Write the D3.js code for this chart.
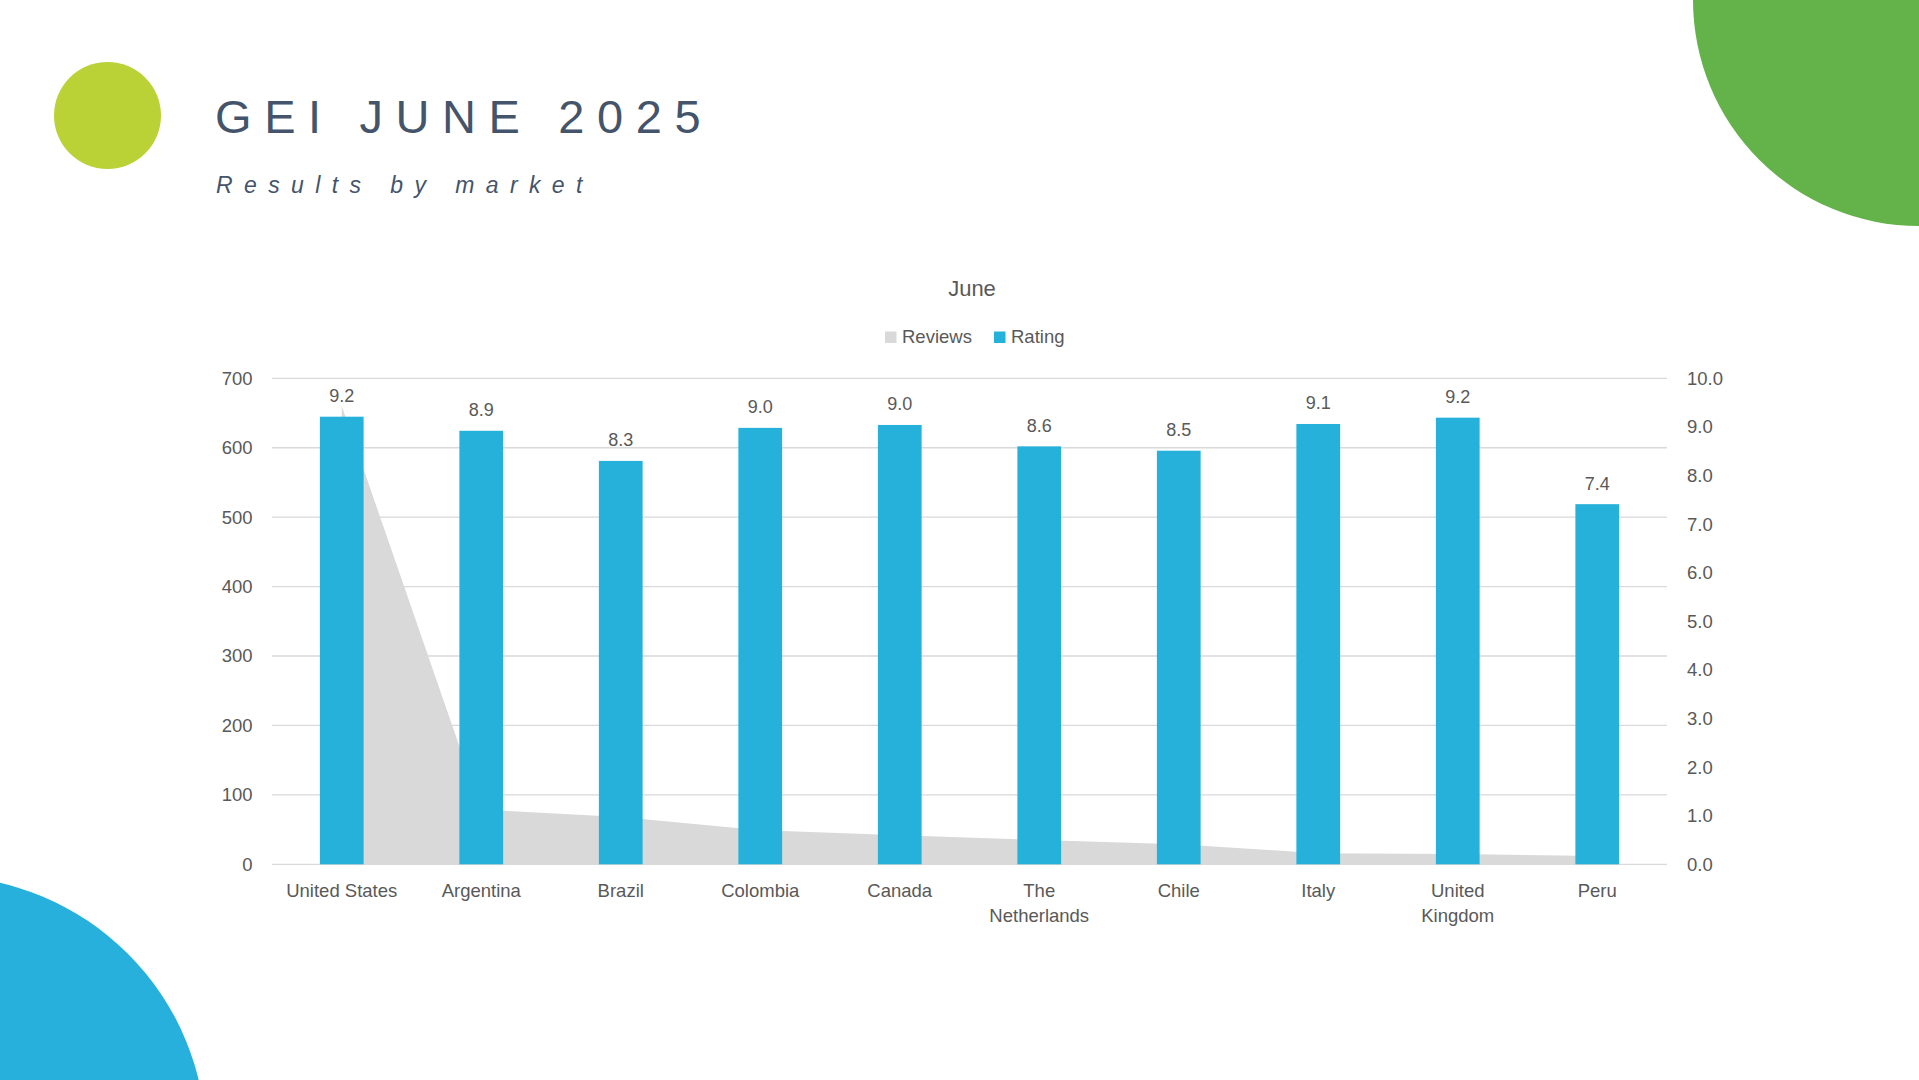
<!DOCTYPE html>
<html>
<head>
<meta charset="utf-8">
<script src="https://cdn.jsdelivr.net/npm/d3@7"></script>
<style>
  html, body { margin: 0; padding: 0; background: #fff; }
  svg { display: block; }
</style>
</head>
<body>
<svg id="slide"></svg>
<script>
const W = 1919, H = 1080;

// DATA
const markets = ["United States", "Argentina", "Brazil", "Colombia", "Canada",
                 "The Netherlands", "Chile", "Italy", "United Kingdom", "Peru"];
const tickLabels = ["United States", "Argentina", "Brazil", "Colombia", "Canada",
                    "The\nNetherlands", "Chile", "Italy", "United\nKingdom", "Peru"];
const reviews = [660, 79, 68, 49, 42, 35, 29, 16, 15, 12];
const rating = [9.21, 8.92, 8.30, 8.98, 9.04, 8.60, 8.51, 9.06, 9.19, 7.41];
const leftTicks = [0, 100, 200, 300, 400, 500, 600, 700];
const rightTicks = [0, 1, 2, 3, 4, 5, 6, 7, 8, 9, 10];
const seriesNames = ["Reviews", "Rating"];

const data = markets.map((m, i) => ({ market: m, label: tickLabels[i], reviews: reviews[i], rating: rating[i] }));

const font = "'Liberation Sans', Arial, sans-serif";
const grey = "#595959";
const blue = "#26B1DA";
const areaGrey = "#D9D9D9";

const svg = d3.select("#slide")
    .attr("width", W)
    .attr("height", H)
    .attr("viewBox", `0 0 ${W} ${H}`);

// DECORATION
svg.append("circle")
    .attr("cx", 107.5).attr("cy", 115.5).attr("r", 53.5)
    .attr("fill", "#BAD235");
svg.append("ellipse")
    .attr("cx", 1919).attr("cy", 0).attr("rx", 226).attr("ry", 226)
    .attr("fill", "#63B34A");
svg.append("circle")
    .attr("cx", -60).attr("cy", 1142).attr("r", 266)
    .attr("fill", "#27B0DB");

svg.append("text")
    .attr("x", 215).attr("y", 133)
    .attr("font-family", font)
    .attr("font-size", 47)
    .attr("letter-spacing", "12.6px")
    .attr("fill", "#44546A")
    .text("GEI JUNE 2025");
svg.append("text")
    .attr("x", 216).attr("y", 192.5)
    .attr("font-family", font)
    .attr("font-size", 23)
    .attr("font-style", "italic")
    .attr("letter-spacing", "11.4px")
    .attr("fill", "#44546A")
    .text("Results by market");

// CHART
const plot = {left: 272, right: 1667, top: 378.3, bottom: 864.3};

const x = d3.scaleBand()
    .domain(markets)
    .range([plot.left, plot.right])
    .padding(0);
const bw = x.bandwidth();
const barW = bw / 3.19;

const yL = d3.scaleLinear().domain([0, 700]).range([plot.bottom, plot.top]);
const yR = d3.scaleLinear().domain([0, 10]).range([plot.bottom, plot.top]);

// gridlines
svg.append("g")
  .selectAll("line")
  .data(leftTicks)
  .join("line")
    .attr("x1", plot.left).attr("x2", plot.right)
    .attr("y1", d => yL(d)).attr("y2", d => yL(d))
    .attr("stroke", "#D9D9D9")
    .attr("stroke-width", 1.3);

// reviews area
svg.append("path")
    .datum(data)
    .attr("fill", areaGrey)
    .attr("d", d3.area()
        .x(d => x(d.market) + bw / 2)
        .y0(yL(0))
        .y1(d => yL(d.reviews)));

// rating bars
svg.append("g")
  .selectAll("rect")
  .data(data)
  .join("rect")
    .attr("x", d => x(d.market) + (bw - barW) / 2)
    .attr("width", barW)
    .attr("y", d => yR(d.rating))
    .attr("height", d => yR(0) - yR(d.rating))
    .attr("fill", blue);

// data labels
svg.append("g")
  .selectAll("text")
  .data(data)
  .join("text")
    .attr("x", d => x(d.market) + bw / 2)
    .attr("y", d => yR(d.rating) - 14.5)
    .attr("text-anchor", "middle")
    .attr("font-family", font)
    .attr("font-size", 18)
    .attr("fill", grey)
    .text(d => d3.format(".1f")(d.rating));

// left axis
const axL = svg.append("g")
    .attr("transform", `translate(${plot.left},0)`)
    .call(d3.axisLeft(yL).tickValues(leftTicks).tickSize(0).tickPadding(19.5));
axL.select(".domain").remove();
axL.selectAll("text")
    .attr("font-family", font).attr("font-size", 18.5).attr("fill", grey);

// right axis
const axR = svg.append("g")
    .attr("transform", `translate(${plot.right},0)`)
    .call(d3.axisRight(yR).tickValues(rightTicks).tickFormat(d3.format(".1f")).tickSize(0).tickPadding(20));
axR.select(".domain").remove();
axR.selectAll("text")
    .attr("font-family", font).attr("font-size", 18.5).attr("fill", grey);

// category labels
const cat = svg.append("g")
  .selectAll("text")
  .data(data)
  .join("text")
    .attr("x", d => x(d.market) + bw / 2)
    .attr("y", 897)
    .attr("text-anchor", "middle")
    .attr("font-family", font)
    .attr("font-size", 18.5)
    .attr("fill", grey);
cat.selectAll("tspan")
  .data(d => d.label.split("\n"))
  .join("tspan")
    .attr("x", function() { return d3.select(this.parentNode).attr("x"); })
    .attr("dy", (d, i) => i === 0 ? 0 : 25)
    .text(d => d);

// chart title
svg.append("text")
    .attr("x", 972).attr("y", 296)
    .attr("text-anchor", "middle")
    .attr("font-family", font)
    .attr("font-size", 22)
    .attr("fill", grey)
    .text("June");

// legend
const legendX = [885, 994];
const legendColors = [areaGrey, blue];
const lg = svg.append("g")
  .selectAll("g")
  .data(seriesNames)
  .join("g")
    .attr("transform", (d, i) => `translate(${legendX[i]},0)`);
lg.append("rect")
    .attr("x", 0).attr("y", 331.5)
    .attr("width", 11.5).attr("height", 11.5)
    .attr("fill", (d, i) => legendColors[i]);
lg.append("text")
    .attr("x", 17).attr("y", 343)
    .attr("font-family", font)
    .attr("font-size", 18.5)
    .attr("fill", grey)
    .text(d => d);
</script>
</body>
</html>
